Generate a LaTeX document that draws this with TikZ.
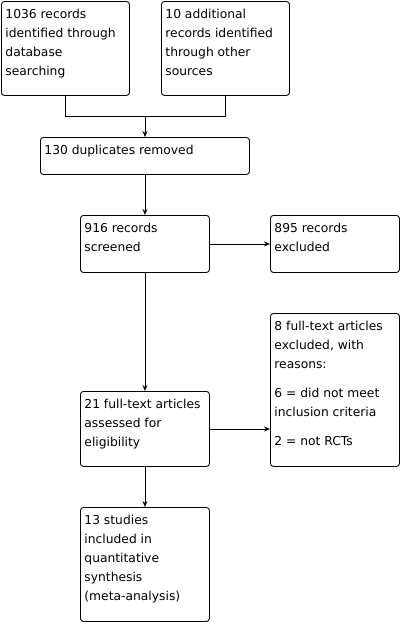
\documentclass[tikz,border=0pt]{standalone}
\usepackage{fontspec}
\newfontfamily\boxfont{DejaVu Sans}
\usetikzlibrary{arrows.meta}

% text of a box: width, height, lines
\newcommand{\boxtext}[3]{\parbox[t][#2][t]{#1}{\raggedright\rule{0pt}{17pt}#3}}

\begin{document}
\begin{tikzpicture}[x=1pt,y=-1pt,line width=0.9pt,
box/.style={draw,rounded corners=3pt,anchor=north west,inner xsep=4pt,inner ysep=0pt,
  font=\boxfont\fontsize{12.3}{19}\selectfont},
arr/.style={-{Stealth[length=6pt,width=5pt]}}]
\useasboundingbox (0,0) rectangle (402,622);

\node[box] (ident) at (1,1) {\boxtext{120pt}{94pt}{1036 records\\identified through\\database\\searching}};
\node[box] (other) at (161,1) {\boxtext{120pt}{94pt}{10 additional\\records identified\\through other\\sources}};
\node[box] (dupl) at (40,137) {\boxtext{201pt}{37pt}{130 duplicates removed}};
\node[box] (screen) at (80,215) {\boxtext{121pt}{57pt}{916 records\\screened}};
\node[box] (excl) at (270,215) {\boxtext{121pt}{57pt}{895 records\\excluded}};
\node[box] (ftexcl) at (270,313) {\boxtext{121pt}{153pt}{8 full-text articles\\excluded, with\\reasons:\\[10pt]6 = did not meet\\inclusion criteria\\[10pt]2 = not RCTs}};
\node[box] (assess) at (80,391) {\boxtext{121pt}{75pt}{21 full-text articles\\assessed for\\eligibility}};
\node[box] (incl) at (80,507) {\boxtext{121pt}{114pt}{13 studies\\included in\\quantitative\\synthesis\\(meta-analysis)}};

\coordinate (join) at (dupl.north |- 0,116);
\draw (ident.south) |- (join);
\draw (other.south) |- (join);
\draw[arr] (join) -- (dupl.north);
\draw[arr] (dupl.south) -- (screen.north);
\draw[arr] (screen.east) -- (excl.west);
\draw[arr] (screen.south) -- (assess.north);
\draw[arr] (assess.east) -- (assess.east -| ftexcl.west);
\draw[arr] (assess.south) -- (incl.north);
\end{tikzpicture}
\end{document}
